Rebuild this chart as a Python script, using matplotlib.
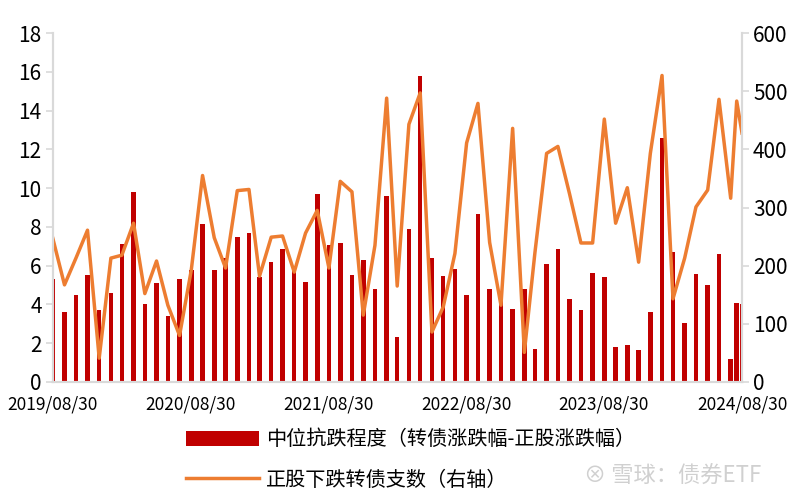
import numpy as np
import pandas as pd
import matplotlib
matplotlib.use("Agg")
import matplotlib.pyplot as plt
import matplotlib.dates as mdates

plt.rcParams['font.family'] = ['Noto Sans CJK SC', 'DejaVu Sans']

# month-end dates, plus one extra point inside Aug 2024
dates = list(pd.date_range("2019-08-31", periods=60, freq="ME"))
dates[0] = pd.Timestamp("2019-08-30")
dates += [pd.Timestamp("2024-08-16"), pd.Timestamp("2024-08-30")]

# median resilience (cb return - stock return), left axis
resist = [5.3, 3.6, 4.5, 5.5, 3.7, 4.6, 7.1, 9.8, 4.0, 5.1,
          3.4, 5.3, 5.8, 8.15, 5.8, 6.4, 7.5, 7.7, 5.4, 6.2,
          6.85, 5.7, 5.15, 9.7, 7.05, 7.15, 5.5, 6.3, 4.8, 9.6,
          2.3, 7.9, 15.8, 6.4, 5.45, 5.85, 4.5, 8.65, 4.8, 4.25,
          3.75, 4.8, 1.7, 6.1, 6.85, 4.3, 3.7, 5.6, 5.4, 1.8,
          1.9, 1.65, 3.6, 12.6, 6.7, 3.05, 5.55, 5.0, 6.6, 1.2,
          4.05, 4.0]

# number of CBs whose stock fell, right axis
n_down = [247, 167, 214, 261, 41, 213, 218, 273, 152, 208,
          132, 80, 192, 355, 248, 196, 329, 331, 182, 249,
          251, 189, 256, 295, 196, 345, 327, 115, 235, 488,
          165, 443, 497, 86, 129, 221, 411, 479, 240, 132,
          436, 51, 222, 393, 405, 323, 239, 239, 452, 273,
          334, 206, 393, 527, 143, 213, 301, 330, 486, 316,
          483, 428]

tick_dates = pd.to_datetime(["2019-08-30", "2020-08-30", "2021-08-30",
                             "2022-08-30", "2023-08-30", "2024-08-30"])

fig = plt.figure(figsize=(8, 5), dpi=100)
ax = fig.add_axes([0.066, 0.236, 0.8615, 0.698])
ax2 = ax.twinx()

ax.bar(dates, resist, width=12, color="#C00000", label="中位抗跌程度（转债涨跌幅-正股涨跌幅）")
ax2.plot(dates, n_down, color="#ED7D31", lw=2.5, label="正股下跌转债支数（右轴）")

ax.set_xlim(dates[0], dates[-1])
ax.set_ylim(0, 18)
ax.set_yticks(np.arange(0, 19, 2))
ax2.set_ylim(0, 600)
ax2.set_yticks(np.arange(0, 601, 100))

ax.set_xticks(tick_dates)
ax.xaxis.set_major_formatter(mdates.DateFormatter("%Y/%m/%d"))

grey = "#D9D9D9"
for a in (ax, ax2):
    a.spines["top"].set_visible(False)
    for s in ("left", "right", "bottom"):
        a.spines[s].set_color(grey)
        a.spines[s].set_linewidth(1.5)

ax.tick_params(axis="y", labelsize=15, color=grey, length=5, width=1.2, pad=3)
ax2.tick_params(axis="y", labelsize=15, color=grey, length=5, width=1.2, pad=3)
ax.tick_params(axis="x", labelsize=12.5, length=0, pad=10)

h1, l1 = ax.get_legend_handles_labels()
h2, l2 = ax2.get_legend_handles_labels()
fig.legend(h1 + h2, l1 + l2, loc="center", bbox_to_anchor=(0.513, 0.08),
           ncol=1, frameon=False, fontsize=14.5, handlelength=3.6,
           handleheight=0.8, handletextpad=0.35, labelspacing=0.95)

fig.text(0.73, 0.048, "⊗ 雪球：债券ETF", color="#D0D0D0", fontsize=16, va="center")

fig.savefig("out.png", dpi=100)
